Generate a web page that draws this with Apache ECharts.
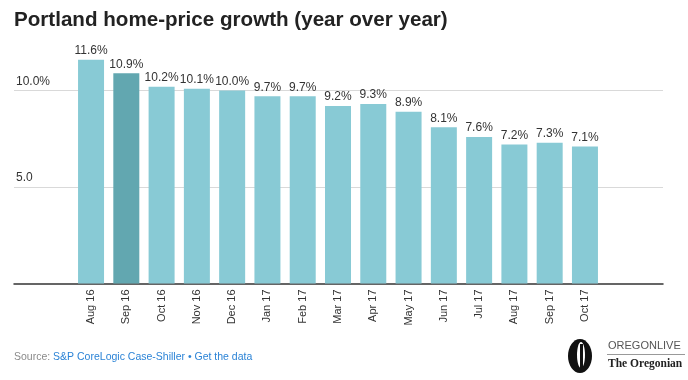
<!DOCTYPE html>
<html>
<head>
<meta charset="utf-8">
<script src="https://cdn.jsdelivr.net/npm/echarts@6/dist/echarts.min.js"></script>
<style>html,body{margin:0;padding:0;background:#fff}#c{width:688px;height:380px}</style>
</head>
<body>
<div id="c"></div>
<script>
const categories = ['Aug 16','Sep 16','Oct 16','Nov 16','Dec 16','Jan 17','Feb 17','Mar 17','Apr 17','May 17','Jun 17','Jul 17','Aug 17','Sep 17','Oct 17'];
const growth = [11.6,10.9,10.2,10.1,10.0,9.7,9.7,9.2,9.3,8.9,8.1,7.6,7.2,7.3,7.1];
const highlightIndex = 1;
const yTickLabels = {5: '5.0', 10: '10.0%'};

const LIGHT = '#88CAD5', DARK = '#62A7B0';
const chart = echarts.init(document.getElementById('c'), null, {renderer: 'canvas'});
const gTop = 52, gBottom = 96.5;
chart.setOption({
  animation: false,
  textStyle: {fontFamily: 'Liberation Sans, Arial, sans-serif'},
  title: {
    text: 'Portland home-price growth (year over year)',
    left: 14, top: 10, padding: 0,
    textStyle: {fontFamily: 'Liberation Sans, Arial, sans-serif', fontWeight: 'bold', fontSize: 20.6, color: '#222'}
  },
  grid: [
    {left: 14, right: 25, top: gTop, bottom: gBottom},
    {left: 73.4, right: 85.4, top: gTop, bottom: gBottom}
  ],
  xAxis: [
    {gridIndex: 0, type: 'value', min: 0, max: 1, axisLine: {show: true, onZero: false, lineStyle: {color: '#333', width: 1.5}},
     axisTick: {show: false}, axisLabel: {show: false}, splitLine: {show: false}},
    {gridIndex: 1, type: 'category', data: categories, axisLine: {show: false}, axisTick: {show: false},
     axisLabel: {rotate: 90, margin: 6, fontSize: 11, color: '#333', interval: 0}}
  ],
  yAxis: [
    {gridIndex: 0, type: 'value', min: 0, max: 12, interval: 5,
     axisLine: {show: false}, axisTick: {show: false},
     splitLine: {show: true, showMinLine: false, showMaxLine: false, lineStyle: {color: '#d9d9d9', width: 1}},
     axisLabel: {inside: true, margin: 2, fontSize: 12, color: '#333', verticalAlign: 'bottom', padding: [0,0,3,0],
       showMaxLabel: false, showMinLabel: false,
       formatter: v => yTickLabels[v] || ''}},
    {gridIndex: 1, type: 'value', min: 0, max: 12, show: false}
  ],
  series: [{
    type: 'bar', xAxisIndex: 1, yAxisIndex: 1, barWidth: 26,
    data: growth.map((v, i) => ({value: v, itemStyle: {color: i === highlightIndex ? DARK : LIGHT}})),
    label: {show: true, position: 'top', distance: 3, fontSize: 12, color: '#333', formatter: p => p.value.toFixed(1) + '%'}
  }],
  graphic: [
    {type: 'text', left: 14, top: 352, style: {
      text: '{g|Source: }{b|S&P CoreLogic Case-Shiller • Get the data}',
      rich: {
        g: {fill: '#8a8a8a', fontSize: 10.5, fontFamily: 'Liberation Sans Narrow, Arial Narrow, Liberation Sans, sans-serif'},
        b: {fill: '#2b83d6', fontSize: 10.5, fontFamily: 'Liberation Sans Narrow, Arial Narrow, Liberation Sans, sans-serif'}
      }}},
    {type: 'ellipse', shape: {cx: 580, cy: 356, rx: 12, ry: 17}, style: {fill: '#111'}},
    {type: 'ellipse', shape: {cx: 581, cy: 355, rx: 4, ry: 13}, style: {fill: '#fff'}},
    {type: 'rect', shape: {x: 580, y: 344, width: 3, height: 24}, style: {fill: '#111'}},
    {type: 'text', left: 608, top: 340, style: {text: 'OREGONLIVE', fill: '#555', fontSize: 11, fontFamily: 'Liberation Sans, Arial, sans-serif'}},
    {type: 'line', shape: {x1: 607, y1: 354.5, x2: 685, y2: 354.5}, style: {stroke: '#999', lineWidth: 1}},
    {type: 'text', left: 608, top: 358, style: {text: 'The Oregonian', fill: '#222', fontSize: 11.5, fontWeight: 'bold', fontFamily: 'Liberation Serif, serif'}}
  ]
});
</script>
</body>
</html>
